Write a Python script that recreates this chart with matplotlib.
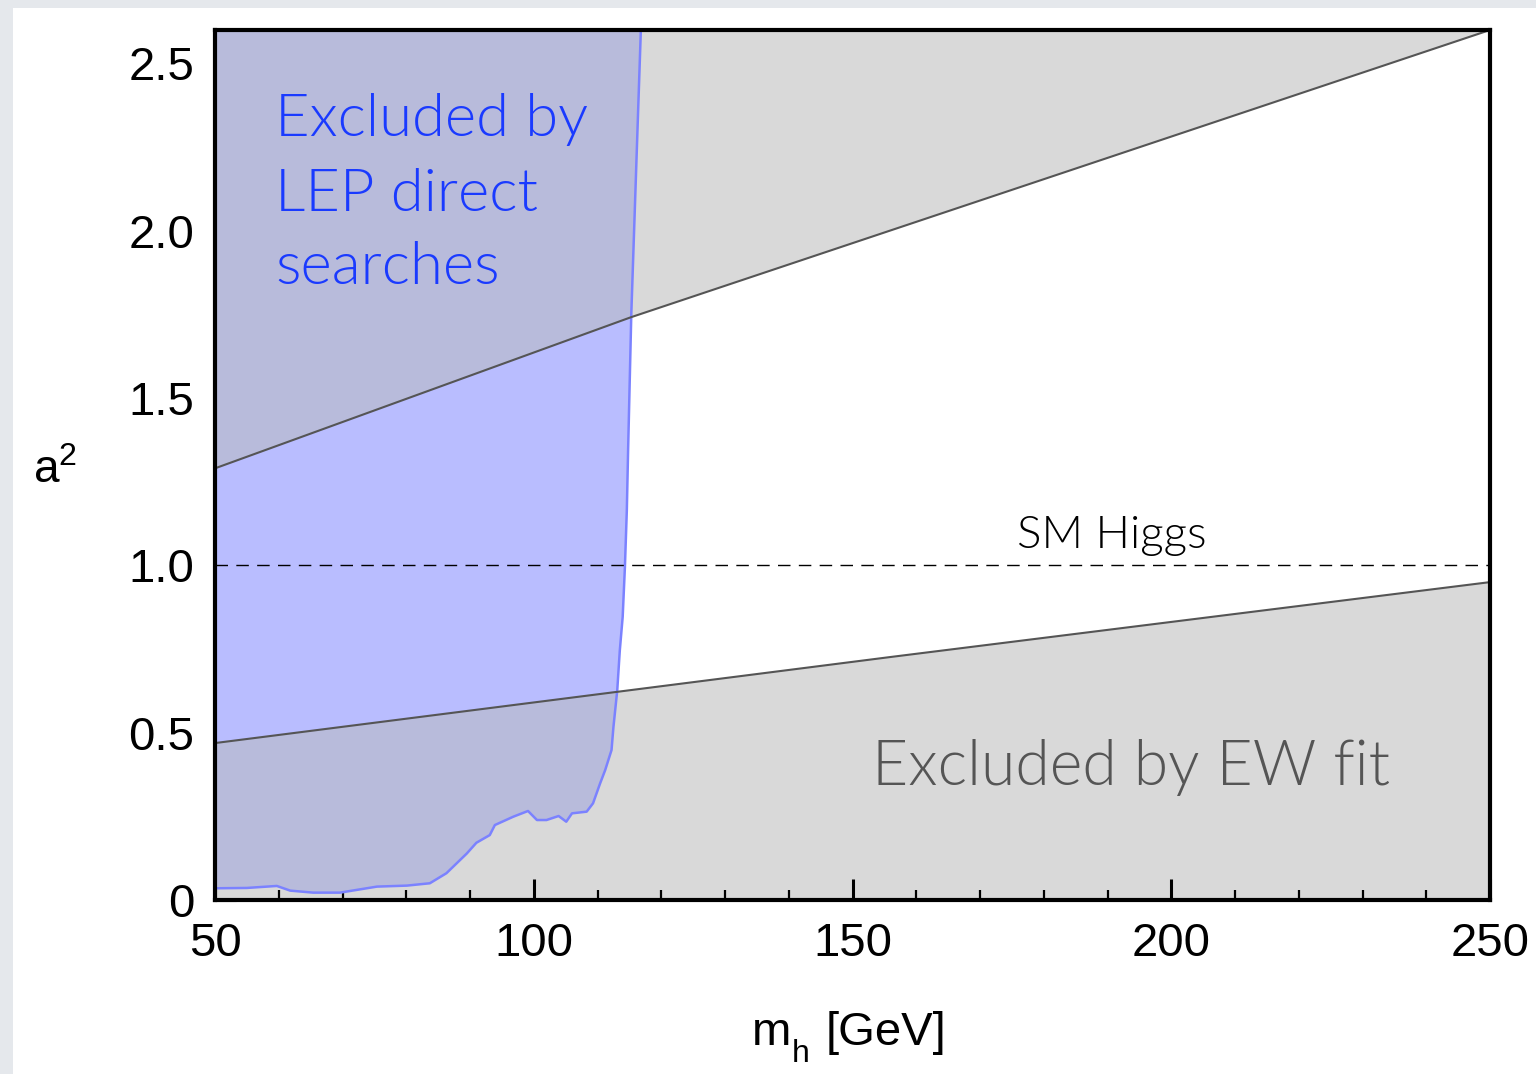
import numpy as np
import matplotlib
matplotlib.use('Agg')
import matplotlib.pyplot as plt
from matplotlib.patches import Polygon, Rectangle
from matplotlib.ticker import MultipleLocator, FixedFormatter, FixedLocator

plt.rcParams['font.family'] = ['Liberation Sans', 'DejaVu Sans']
plt.rcParams['mathtext.fontset'] = 'custom'
plt.rcParams['mathtext.rm'] = 'Liberation Sans'
plt.rcParams['mathtext.it'] = 'Liberation Sans'

# axis ranges
XMIN, XMAX = 50, 250
YMIN, YMAX = 0, 2.6

# EW fit bounds on a^2 versus m_h
ewUpperMass = [50, 115, 250]
ewUpperA2 = [1.29, 1.74, 2.60]
ewLowerMass = [50, 150, 250]
ewLowerA2 = [0.469, 0.712, 0.950]

# LEP direct search limit (a^2 above the curve is excluded)
lepMass = [50, 55, 59.7, 61.8, 65.4, 69.6, 75.4, 80.1, 83.7, 86.3, 89.5, 91.0,
           93.1, 93.9, 96.8, 99.1, 100.5, 102.0, 103.9, 105.1, 106.0, 108.3,
           109.3, 110.4, 111.2, 112.2, 112.5, 113.1, 113.5, 113.95, 114.3,
           114.6, 114.8, 115.3, 116.8]
lepA2 = [0.035, 0.036, 0.042, 0.028, 0.022, 0.022, 0.040, 0.043, 0.050, 0.080,
         0.139, 0.171, 0.194, 0.224, 0.249, 0.266, 0.239, 0.239, 0.251, 0.234,
         0.259, 0.264, 0.289, 0.348, 0.388, 0.448, 0.517, 0.627, 0.746, 0.846,
         0.995, 1.164, 1.343, 1.75, 2.6]

SM_A2 = 1.0

xTicks = [50, 100, 150, 200, 250]
yTicks = [0, 0.5, 1.0, 1.5, 2.0, 2.5]
yTickLabels = ['0', '0.5', '1.0', '1.5', '2.0', '2.5']

GREY = '#d9d9d9'
LEPBLUE = '#b9bdff'
LEPONGREY = '#b8bbdb'
LINEBLUE = '#7b82ff'

fig = plt.figure(figsize=(15.36, 10.74), dpi=100, facecolor='#e5e8ec')
fig.patches.append(Rectangle((13 / 1536, 0), 1 - 13 / 1536, 1 - 8 / 1074,
                             transform=fig.transFigure, facecolor='white',
                             edgecolor='none', zorder=-5))

ax = fig.add_axes([215 / 1536, 174 / 1074, 1275 / 1536, 870 / 1074])
ax.set_xlim(XMIN, XMAX)
ax.set_ylim(YMIN, YMAX)

# grey regions excluded by the EW fit
xs = np.linspace(XMIN, XMAX, 400)
upper = np.interp(xs, ewUpperMass, ewUpperA2)
lower = np.interp(xs, ewLowerMass, ewLowerA2)
upperPoly = Polygon(np.column_stack([np.r_[xs, XMAX, XMIN], np.r_[upper, YMAX, YMAX]]),
                    closed=True, facecolor=GREY, edgecolor='none', zorder=1)
lowerPoly = Polygon(np.column_stack([np.r_[xs, XMAX, XMIN], np.r_[lower, YMIN, YMIN]]),
                    closed=True, facecolor=GREY, edgecolor='none', zorder=1)
ax.add_patch(upperPoly)
ax.add_patch(lowerPoly)

# LEP excluded region
lepX = np.r_[XMIN, lepMass, lepMass[-1]]
lepY = np.r_[YMAX, lepA2, YMAX]
lepVerts = np.column_stack([lepX, lepY])
ax.add_patch(Polygon(lepVerts, closed=True, facecolor=LEPBLUE, edgecolor='none', zorder=2))
for clipPoly in (upperPoly, lowerPoly):
    overlap = Polygon(lepVerts, closed=True, facecolor=LEPONGREY, edgecolor='none', zorder=3)
    ax.add_patch(overlap)
    overlap.set_clip_path(clipPoly)
ax.plot(lepMass, lepA2, color=LINEBLUE, lw=1.8, zorder=4)

# bounding lines and SM value
ax.plot(xs, upper, color='#555555', lw=1.5, zorder=5)
ax.plot(xs, lower, color='#555555', lw=1.5, zorder=5)
ax.axhline(SM_A2, color='black', lw=1.0, dashes=(9, 6), zorder=5)

labelFont = ['Lato', 'DejaVu Sans']
for txt, y in zip(['Excluded by', 'LEP direct', 'searches'], [2.284, 2.060, 1.842]):
    ax.text(59.4, y, txt, color='#1a3aff', fontsize=43, family=labelFont,
            fontweight=300, va='baseline', ha='left', zorder=6)
ax.text(175.8, 1.051, 'SM Higgs', color='black', fontsize=33, family=labelFont,
        fontweight=300, va='baseline', ha='left', zorder=6)
ax.text(153.1, 0.343, 'Excluded by EW fit', color='#555555', fontsize=45,
        family=labelFont, fontweight=300, va='baseline', ha='left', zorder=6)

# ticks
ax.xaxis.set_major_locator(FixedLocator(xTicks))
ax.xaxis.set_minor_locator(MultipleLocator(10))
ax.yaxis.set_major_locator(FixedLocator(yTicks))
ax.yaxis.set_major_formatter(FixedFormatter(yTickLabels))
ax.yaxis.set_minor_locator(MultipleLocator(0.1))
ax.tick_params(which='both', direction='in', top=False, right=False, labelsize=34)
ax.tick_params(which='major', length=15, width=2.2)
ax.tick_params(which='minor', length=7, width=1.6)
ax.tick_params(axis='x', which='major', pad=16)
ax.tick_params(axis='y', which='major', pad=15)
for s in ax.spines.values():
    s.set_linewidth(3)
    s.set_zorder(10)

# axis titles: m with a lowered subscript h, and a squared
fig.text(752 / 1536, (1074 - 1045) / 1074, 'm', fontsize=34, ha='left', va='baseline')
fig.text(792 / 1536, (1074 - 1062) / 1074, 'h', fontsize=23, ha='left', va='baseline')
fig.text(826 / 1536, (1074 - 1045) / 1074, '[GeV]', fontsize=34, ha='left', va='baseline')
fig.text(33 / 1536, (1074 - 483) / 1074, r'a$^{2}$', fontsize=33,
         ha='left', va='baseline')

fig.savefig('out.png', dpi=100, facecolor=fig.get_facecolor())
